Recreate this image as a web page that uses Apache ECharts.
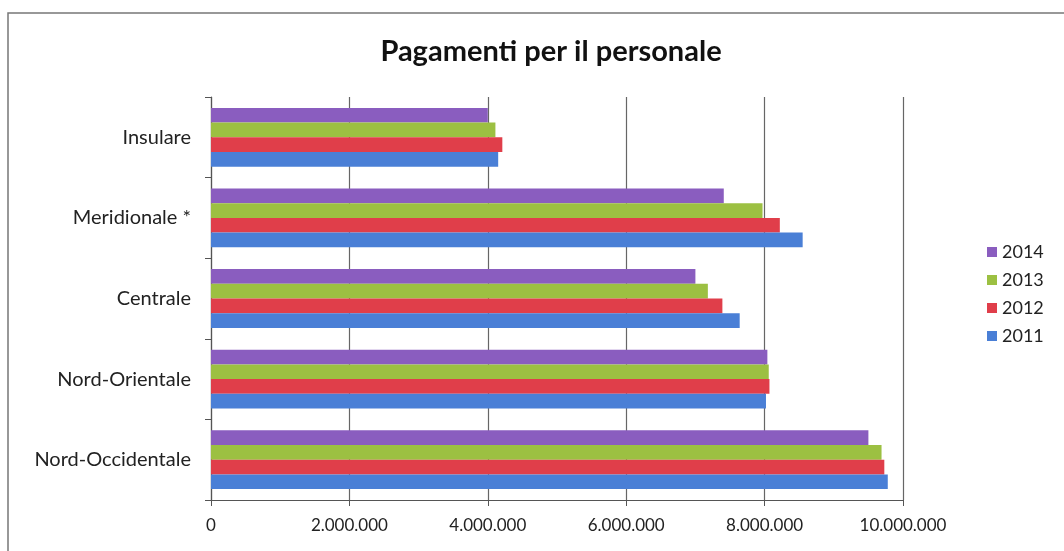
<!DOCTYPE html>
<html>
<head>
<meta charset="utf-8">
<script src="https://cdn.jsdelivr.net/npm/echarts@6/dist/echarts.min.js"></script>
<style>
  html, body { margin: 0; padding: 0; background: #fff; }
  #chart { width: 1064px; height: 551px; }
</style>
</head>
<body>
<div id="chart"></div>
<script>
const categories = ['Nord-Occidentale', 'Nord-Orientale', 'Centrale', 'Meridionale *', 'Insulare']
// series listed top-to-bottom inside each group
const years = ['2014', '2013', '2012', '2011']
const values2014 = [9500000, 8040000, 7000000, 7410000, 4000000]
const values2013 = [9690000, 8060000, 7180000, 7970000, 4110000]
const values2012 = [9730000, 8070000, 7390000, 8220000, 4210000]
const values2011 = [9780000, 8020000, 7640000, 8550000, 4150000]
const colors = ['#8a5dbf', '#9cc042', '#e03e4a', '#4a7fd6']

const chart = echarts.init(document.getElementById('chart'))

const fmt = v => String(v).replace(/\B(?=(\d{3})+(?!\d))/g, '.')

const seriesData = [values2014, values2013, values2012, values2011]

const option = {
  animation: false,
  textStyle: { fontFamily: 'Lato, "Open Sans", sans-serif' },
  title: {
    text: 'Pagamenti per il personale',
    left: 546,
    textAlign: 'center',
    top: 32,
    textStyle: { fontSize: 29, fontWeight: 'bold', color: '#111', fontFamily: 'Lato, "Open Sans", sans-serif' }
  },
  graphic: [
    {
      type: 'rect',
      shape: { x: 8, y: 13, width: 1070, height: 545 },
      style: { fill: 'none', stroke: '#777', lineWidth: 1.5 },
      silent: true
    }
  ],
  legend: {
    data: ['2014', '2013', '2012', '2011'],
    orient: 'vertical',
    left: 982,
    top: 238,
    itemWidth: 10,
    itemHeight: 10,
    itemGap: 10,
    icon: 'rect',
    textStyle: { fontSize: 18, color: '#222' }
  },
  grid: { left: 211, right: 161, top: 97, bottom: 51 },
  xAxis: {
    type: 'value',
    min: 0,
    max: 10000000,
    interval: 2000000,
    axisLine: { show: true, lineStyle: { color: '#555', width: 1.2 } },
    axisTick: { show: true, length: 6, lineStyle: { color: '#555' } },
    axisLabel: { fontSize: 17, color: '#222', margin: 17, formatter: fmt },
    splitLine: { show: true, lineStyle: { color: '#666', width: 1.2 } }
  },
  yAxis: {
    type: 'category',
    data: categories,
    axisLine: { show: true, lineStyle: { color: '#555', width: 1.2 } },
    axisTick: { show: true, length: 6, lineStyle: { color: '#555' } },
    axisLabel: { fontSize: 20, color: '#222', margin: 20 }
  },
  series: years.map((y, i) => ({
    name: y,
    type: 'bar',
    data: seriesData[i],
    itemStyle: { color: colors[i] },
    barGap: '0%',
    barCategoryGap: '27%'
  }))
}

chart.setOption(option)
</script>
</body>
</html>
